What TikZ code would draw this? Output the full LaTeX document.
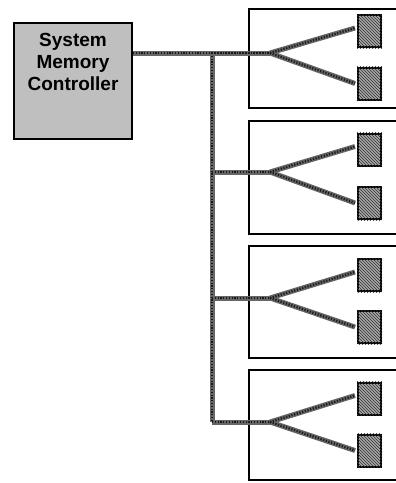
\documentclass[tikz,border=0pt]{standalone}
\usepackage{fontspec}
\setmainfont{Liberation Sans}
\usetikzlibrary{patterns}
\tikzset{
  ctrlbox/.style={draw=black, line width=2pt, fill=black!25, minimum width=118pt, minimum height=116pt, inner sep=0pt},
  modbox/.style={draw=black, line width=1.8pt, fill=white, minimum width=160pt, anchor=north west, inner sep=0pt},
  chipbox/.style={draw=black, line width=2pt, fill=black!35, minimum width=23pt, minimum height=32pt, inner sep=0pt},
  wire/.style={line width=5pt, black!60},
  wiretex/.style={line width=2.4pt, black!90, dash pattern=on 1.2pt off 1.6pt}
}
\begin{document}
\begin{tikzpicture}[x=1pt,y=-1pt]
      \useasboundingbox (0,0) rectangle (396,483);
      \clip (0,0) rectangle (396,483);
      % memory controller
      \node[ctrlbox] (ctrl) at (73,81) {};
      \node[align=center, font=\bfseries\fontsize{19}{22}\selectfont] (ctrltxt) at (73,62) {System\\Memory\\Controller};
      % modules: index / top / height / branch / chip A / chip B
      \foreach \i/\top/\h/\br/\ca/\cb in {1/8/99/53/31/83.5, 2/120/113/172/149.5/203, 3/245/112/298/275/327, 4/369/110/422/398.5/450.5} {
        \node[modbox, minimum height=\h pt] (mod\i) at (248,\top) {};
        \node[chipbox] (chipa\i) at (369.5,\ca) {};
        \node[chipbox] (chipb\i) at (369.5,\cb) {};
        \fill[pattern=north west lines, pattern color=black!80] (chipa\i.south west) rectangle (chipa\i.north east);
        \fill[pattern=north west lines, pattern color=black!80] (chipb\i.south west) rectangle (chipb\i.north east);
        \coordinate (bus\i) at (212,\br);
        \coordinate (fork\i) at (270,\br);
      }
      % bus
      \foreach \s in {wire, wiretex} {
        \draw[\s] (ctrl.east |- bus1) -- (fork1);
        \draw[\s] (bus1) -- (bus4);
        \foreach \i in {1,...,4} {
          \draw[\s] (bus\i) -- (fork\i);
          \draw[\s] (fork\i) -- ([xshift=-2pt,yshift=3pt]chipa\i.west);
          \draw[\s] (fork\i) -- ([xshift=-2pt]chipb\i.west);
        }
      }
    \end{tikzpicture}
\end{document}
